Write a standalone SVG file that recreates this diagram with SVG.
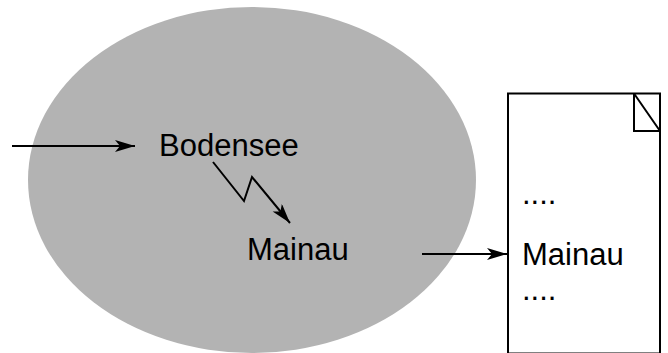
<svg xmlns="http://www.w3.org/2000/svg" width="668" height="353" viewBox="0 0 668 353">
<style>
text{font-family:"Liberation Sans",Arial,sans-serif;font-size:31px;fill:#000}
.c{fill:none;stroke:#000;stroke-width:2}
</style>
<defs>
<marker id="ah" markerUnits="userSpaceOnUse" markerWidth="22" markerHeight="14" refX="20" refY="6" orient="auto">
<path d="M0,0 L20,6 L0,12 L5,6 Z" fill="#000"/>
</marker>
</defs>
<rect width="668" height="353" fill="#fff"/>
<g id="lake">
<ellipse cx="252" cy="180" rx="224" ry="173" fill="#b3b3b3"/>
</g>
<g id="bodensee"><text x="159" y="156">Bodensee</text></g>
<g id="mainau"><text x="247" y="260">Mainau</text></g>
<g id="document">
<rect x="508" y="93.5" width="152" height="260" fill="#fff" stroke="#000" stroke-width="2"/>
<path d="M634,93.5 V131 H660 M634,93.5 L660,131" class="c"/>
<text x="522" y="204">....</text>
<text x="522" y="265">Mainau</text>
<text x="522" y="300">....</text>
</g>
<g id="connectors">
<path d="M12,146 H135" class="c" marker-end="url(#ah)"/>
<path d="M213,162 L244,201 L252,177 L290,223" class="c" marker-end="url(#ah)"/>
<path d="M422,254 H507" class="c" marker-end="url(#ah)"/>
</g>
</svg>
